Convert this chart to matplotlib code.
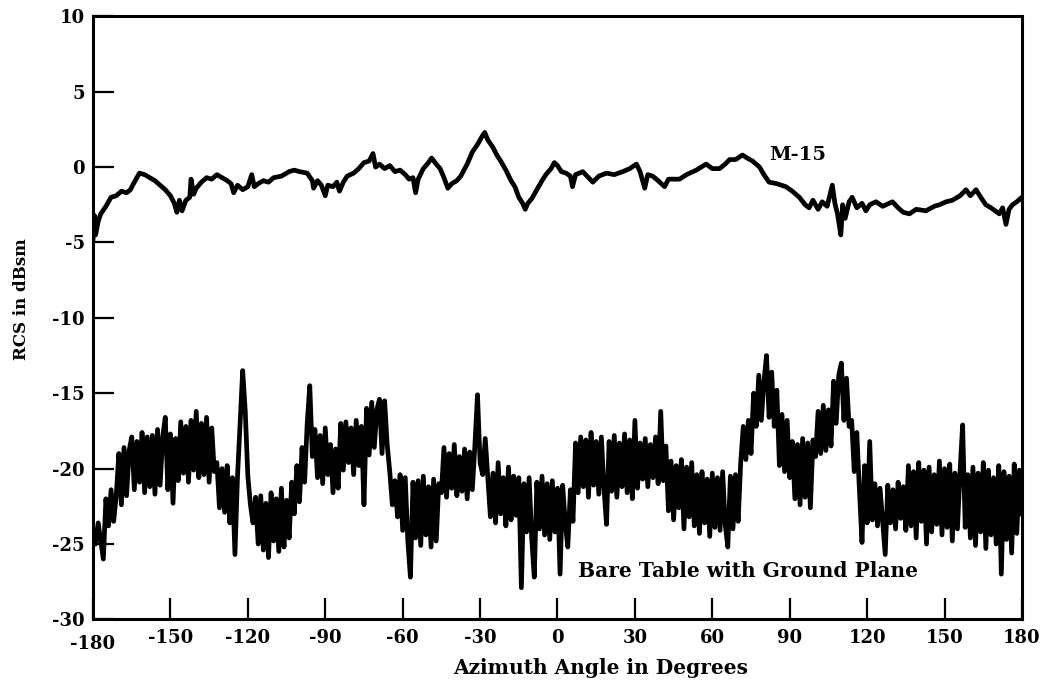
import matplotlib
matplotlib.use('Agg')
import matplotlib.pyplot as plt
import matplotlib.transforms as mtransforms

plt.rcParams['font.family'] = 'DejaVu Serif'
plt.rcParams['font.weight'] = 'bold'

# ── M-15 curve ──────────────────────────────────────────────────────────────
m15_angle = [
    -180, -179.5, -179, -178, -177, -175, -173, -171, -169, -167, -165.5, -164,
    -162, -160, -158, -156, -154, -152, -150, -148.5, -147.5, -146.5, -145.5,
    -144, -142.5, -142, -141, -140, -138, -136, -134, -132, -130, -128, -126.5,
    -125.5, -124, -122, -120, -118.5, -117.5, -116, -114, -112, -110, -107,
    -104, -102, -100, -97, -95, -94.5, -93, -91.5, -90, -89, -87, -85.5, -84.5,
    -83, -81.5, -79, -77, -75, -73, -71.5, -70.5, -69, -67, -65, -63, -61, -59,
    -57.5, -56, -55, -54, -52, -50, -48.8, -47, -45.5, -44, -42.5, -41, -39,
    -37.5, -35, -33, -31, -29, -28.2, -27, -25, -23.5, -22, -20, -18, -16.5,
    -15, -13.5, -12.5, -11.5, -10, -8, -6, -4.5, -2.5, -1.2, 0, 1.5, 3.3, 5,
    5.8, 7, 9.8, 12, 13.7, 16, 19, 22, 25.3, 28, 30.6, 32, 33.8, 35, 36.9, 39,
    41.5, 43, 47.3, 50, 53.8, 57.6, 60, 62.8, 65, 66.7, 69, 71.7, 73.5, 75.6,
    78.3, 80, 82, 85, 88.5, 91, 93.7, 96, 97.5, 99, 101, 102.6, 104.5, 106.5,
    107.5, 108.5, 109.8, 110.5, 111.5, 113, 114.2, 116, 118, 119.5, 121, 123.4,
    126, 129.8, 132, 134, 136.4, 139, 142.8, 146, 148, 150.6, 153, 156, 158.3,
    160, 162.2, 164, 166, 168, 171.2, 172.5, 173.8, 175, 176.3, 178, 180,
]
m15_rcs = [
    -4.8, -3.2, -4.5, -3.6, -3.1, -2.6, -2.0, -1.9, -1.6, -1.7, -1.5, -1.0,
    -0.4, -0.5, -0.7, -0.9, -1.2, -1.5, -1.9, -2.4, -3.0, -2.2, -2.9,
    -2.2, -2.0, -0.8, -1.8, -1.4, -1.0, -0.7, -0.8, -0.5, -0.7, -0.9, -1.1,
    -1.7, -1.2, -1.5, -1.3, -0.5, -1.3, -1.1, -0.9, -1.0, -0.7, -0.6,
    -0.3, -0.2, -0.3, -0.4, -0.9, -1.4, -0.9, -1.2, -1.9, -1.2, -1.3, -1.0, -1.6,
    -1.0, -0.6, -0.4, -0.1, 0.3, 0.4, 0.9, 0.0, 0.2, -0.1, 0.1, -0.3, -0.2, -0.5,
    -0.8, -0.7, -1.7, -0.8, -0.1, 0.3, 0.6, 0.2, -0.1, -0.7, -1.4, -1.1, -0.9,
    -0.6, 0.2, 1.0, 1.5, 2.1, 2.3, 1.8, 1.3, 0.8, 0.4, -0.2, -0.9, -1.3,
    -2.0, -2.4, -2.8, -2.4, -2.1, -1.5, -0.9, -0.5, -0.1, 0.3, 0.1, -0.3, -0.4, -0.6,
    -1.3, -0.5, -0.3, -0.7, -1.0, -0.6, -0.4, -0.5, -0.3, -0.1, 0.2, -0.3, -1.4, -0.5, -0.6, -0.9,
    -1.3, -0.8, -0.8, -0.5, -0.2, 0.2, -0.1, -0.1, 0.2, 0.5, 0.5, 0.8, 0.6, 0.4,
    0.0, -0.5, -1.0, -1.1, -1.3, -1.6, -2.0, -2.5, -2.7, -2.2, -2.8, -2.3, -2.6, -1.2,
    -2.4, -3.1, -4.5, -2.5, -3.4, -2.3, -2.0, -2.7, -2.4, -2.9, -2.5, -2.3,
    -2.6, -2.3, -2.7, -3.0, -3.1, -2.8, -2.9, -2.6, -2.5, -2.3, -2.2, -1.9, -1.5,
    -1.9, -1.5, -2.0, -2.5, -2.7, -3.1, -2.7, -3.8, -2.8, -2.5, -2.3, -2.0,
]

# ── Bare table with ground plane, one value per degree (-180 .. 180) ────────
bare_angle = list(range(-180, 181))
bare_rcs = [
    -24.0, -25.0, -23.6, -24.8, -26.0,                      # -180..-176
    -22.0, -23.8, -21.4, -23.5, -21.8,                      # -175..-171
    -19.0, -22.4, -18.6, -21.8, -18.8,                      # -170..-166
    -17.9, -21.4, -18.2, -20.9, -17.6, -21.6, -17.9, -21.2,  # -165..-158
    -17.8, -21.7, -17.4, -21.1, -17.9, -16.6, -21.4, -17.7, -22.3, -18.0,
    -20.8, -16.9, -20.3, -17.2, -20.9, -16.8, -20.1, -16.2, -20.6, -17.0,
    -20.4, -16.6, -20.9, -17.3, -20.2,                      # -147..-133
    -19.6, -22.6, -20.0, -22.9, -19.8, -23.6, -20.6,        # -132..-126
    -25.7, -20.5, -17.0, -13.5, -16.2, -20.5, -22.4, -23.6, -21.9,
    -25.0, -21.8, -25.4, -22.3, -25.9, -21.6, -24.8, -22.0, -25.5, -21.3,
    -25.2, -22.1, -24.6,                                    # -116..-104
    -20.9, -23.0, -19.8, -22.2, -18.6, -20.9,               # -103..-98
    -17.0, -14.5, -19.2,                                    # -97..-95
    -17.4, -20.6, -17.8, -21.0, -17.3, -20.4,               # -94..-89
    -18.4, -21.6, -18.7, -21.3,                             # -88..-85
    -17.0, -20.1, -16.9, -19.6, -17.3, -20.4, -16.8, -19.8, -17.2, -22.4,
    -16.0, -19.1, -15.6, -18.6, -16.1, -15.4, -19.0, -15.5, -18.4,
    -20.2, -22.4, -20.8, -23.2,                             # -65..-62
    -20.4, -24.1, -20.6, -24.8, -27.2, -20.9,               # -61..-56
    -24.6, -20.8, -25.1, -20.5, -24.4, -21.2, -25.2, -20.7, -24.8, -21.0,
    -21.6, -18.6, -21.9, -19.0, -21.3, -18.4, -21.8, -19.2, -21.5, -18.7,
    -22.0, -18.9, -21.4,                                    # -45..-33
    -18.4, -15.1, -19.6,                                    # -32..-30
    -20.4, -18.0, -20.6,                                    # -29..-27
    -23.2, -20.3, -23.6, -19.6, -23.0, -20.6, -23.8, -19.9, -23.4, -20.5, -23.1,
    -20.6, -27.9, -21.0,                                    # -15..-13
    -24.2, -20.6, -24.6, -27.2, -20.9, -24.0, -20.5, -24.4, -21.0, -24.7,
    -20.8, -24.2,                                           # -12..-1
    -21.3, -27.0, -21.1, -23.6, -25.2, -21.4, -23.5,        # 0..6
    -18.3, -21.6, -17.9, -21.2, -18.1, -21.9, -17.6, -21.1, -18.2, -21.7,
    -17.9, -21.3,                                           # 7..18
    -23.7, -18.2, -21.5, -17.8, -21.9, -18.3, -21.2, -17.7, -21.6, -18.1,
    -22.0, -16.8, -21.3,                                    # 19..31
    -18.3, -20.7, -18.0, -21.2, -18.4, -20.6, -17.9, -21.0, -16.2, -20.8, -18.5,
    -22.8, -19.5, -23.4, -19.8, -22.6, -19.4, -24.0, -19.9, -23.2, -19.6,
    -23.8, -20.4, -24.3, -20.2, -23.6, -20.7, -24.5, -20.3, -23.9, -20.6,
    -24.1, -20.2, -23.7, -25.2, -20.5, -24.0, -20.4, -23.5,  # 53..70
    -19.6, -17.2, -19.4, -16.8, -19.0,                      # 71..75
    -15.0, -17.2, -13.8, -16.8, -14.2, -12.5, -16.6, -13.6, -17.2, -14.8,
    -19.8, -16.4, -20.2, -16.8, -20.6,                      # 86..90
    -18.2, -22.0, -18.4, -22.4, -18.0, -21.9, -18.3, -22.6, -18.1,
    -19.2, -16.2, -19.0, -15.8, -18.8, -16.1, -18.5,        # 100..106
    -14.2, -17.0, -13.8, -13.0, -16.8, -14.0, -17.2,        # 107..113
    -16.8, -20.2, -17.6, -21.4, -24.9, -19.8, -23.6,        # 114..120
    -18.2,                                                  # 121
    -23.4, -21.0, -23.8, -21.3, -23.5, -25.7, -21.1, -23.6, -21.4, -24.0,
    -20.9, -23.3, -21.2,                                    # 122..134
    -24.1, -19.8, -23.8, -20.2, -24.6, -19.6, -23.5, -20.1, -25.0, -19.9,
    -24.2, -20.4, -23.7, -19.5, -24.4, -20.0, -23.9, -19.7, -24.8, -20.3,
    -24.0, -20.2, -17.1, -23.9, -20.4, -24.6, -19.9, -25.1, -20.3, -24.2,
    -19.6, -25.3, -20.1, -24.4, -20.6, -25.0, -19.8, -27.0, -20.2, -24.7,
    -20.5, -25.6, -19.7, -24.3, -20.1, -23.0,               # 155..180
]
assert len(bare_rcs) == len(bare_angle)

x_ticks = [-180, -150, -120, -90, -60, -30, 0, 30, 60, 90, 120, 150, 180]
y_ticks = [-30, -25, -20, -15, -10, -5, 0, 5, 10]

fig = plt.figure(figsize=(10.44, 6.81), dpi=100)
ax = fig.add_axes([0.0891, 0.0905, 0.8898, 0.8855])

ax.plot(m15_angle, m15_rcs, color='black', linewidth=3.4, solid_joinstyle='round')
ax.plot(bare_angle, bare_rcs, color='black', linewidth=3.4, solid_joinstyle='round')

ax.set_xlim(-180, 180)
ax.set_ylim(-30, 10)
ax.set_xticks(x_ticks)
ax.set_yticks(y_ticks)
ax.set_xticklabels([str(t) for t in x_ticks])
ax.set_yticklabels([str(t) for t in y_ticks])

for side in ['top', 'bottom', 'left', 'right']:
    ax.spines[side].set_linewidth(2.2)

ax.tick_params(axis='both', direction='in', length=15, width=1.6,
               labelsize=13, pad=6)
ax.tick_params(axis='x', pad=7)
# longer marks at the zero lines
ax.set_xticks([0], minor=True)
ax.set_yticks([0], minor=True)
ax.tick_params(axis='x', which='minor', direction='in', length=24, width=1.6)
ax.tick_params(axis='y', which='minor', direction='in', length=34, width=1.6)

for lbl in ax.get_xticklabels() + ax.get_yticklabels():
    lbl.set_fontweight('bold')
# the -180 label sits a little lower in the original
first = ax.get_xticklabels()[0]
first.set_transform(first.get_transform() +
                    mtransforms.ScaledTranslation(0, -4 / 72, fig.dpi_scale_trans))

ax.set_xlabel('Azimuth Angle in Degrees', fontsize=14.5, fontweight='bold')
ax.xaxis.set_label_coords(0.546, -0.064)
ax.set_ylabel('RCS in dBsm', fontsize=12, fontweight='bold')
ax.yaxis.set_label_coords(-0.068, 0.531)

ax.text(82, 0.8, 'M-15', fontsize=14, fontweight='bold', va='center', ha='left')
ax.text(8, -26.8, 'Bare Table with Ground Plane', fontsize=14.5, fontweight='bold',
        va='center', ha='left')

fig.savefig('out.png', dpi=100)
